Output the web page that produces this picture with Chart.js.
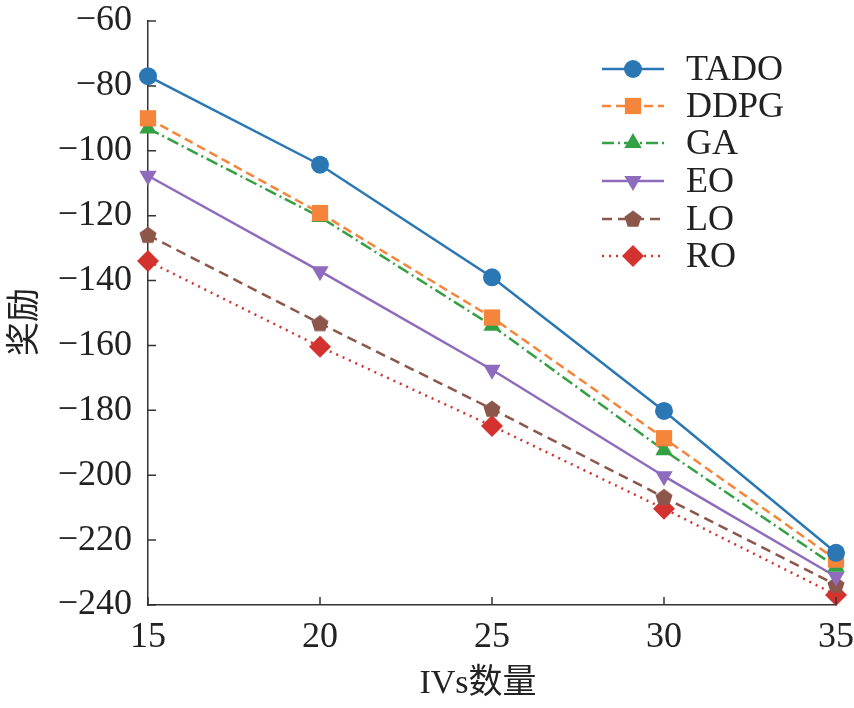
<!DOCTYPE html>
<html>
<head>
<meta charset="utf-8">
<script src="https://cdn.jsdelivr.net/npm/chart.js@4.4.1/dist/chart.umd.min.js"></script>
<style>
html,body{margin:0;padding:0;background:#fff;}
#wrap{width:854px;height:708px;position:relative;}
</style>
</head>
<body>
<div id="wrap"><canvas id="c" width="854" height="708"></canvas></div>
<script>
const xValues = [15, 20, 25, 30, 35];
const xTicks = [15, 20, 25, 30, 35];
const yTicks = [-60, -80, -100, -120, -140, -160, -180, -200, -220, -240];
const seriesNames = ['TADO', 'DDPG', 'GA', 'EO', 'LO', 'RO'];
const tado = [-77.0, -104.3, -139.0, -180.2, -223.9];
const ddpg = [-90.0, -119.2, -151.4, -188.6, -226.0];
const ga   = [-93.1, -120.4, -153.9, -192.3, -228.2];
const eo   = [-107.7, -137.1, -167.5, -200.3, -231.3];
const lo   = [-126.0, -153.2, -179.6, -206.8, -233.8];
const ro   = [-134.0, -160.4, -184.8, -210.3, -236.9];
const xTitle = 'IVs数量';
const yTitle = '奖励';

function pentagon(color, r) {
  const c = document.createElement('canvas');
  const s = Math.ceil(r * 2 + 2);
  c.width = s; c.height = s;
  const g = c.getContext('2d');
  g.fillStyle = color;
  g.beginPath();
  for (let i = 0; i < 5; i++) {
    const a = -Math.PI / 2 + i * 2 * Math.PI / 5;
    const px = s / 2 + r * Math.cos(a), py = s / 2 + r * Math.sin(a) + 0.5;
    if (i === 0) g.moveTo(px, py); else g.lineTo(px, py);
  }
  g.closePath(); g.fill();
  return c;
}

const colors = ['#2a77b4', '#f5853a', '#33a043', '#8e6bbd', '#8c564b', '#d3322f'];
const styles = [
  {pointStyle: 'circle', radius: 9, dash: [], rot: 0},
  {pointStyle: 'rect', radius: 11.5, dash: [9, 5], rot: 0},
  {pointStyle: 'triangle', radius: 10, dash: [12, 4, 2, 4], rot: 0},
  {pointStyle: 'triangle', radius: 10, dash: [], rot: 180},
  {pointStyle: pentagon('#8c564b', 9), radius: 9, dash: [10, 6], rot: 0},
  {pointStyle: 'rectRot', radius: 11, dash: [2, 5], rot: 0}
];
const seriesData = [tado, ddpg, ga, eo, lo, ro];

const datasets = seriesNames.map((name, i) => ({
  label: name,
  data: xValues.map((x, j) => ({x: x, y: seriesData[i][j]})),
  borderColor: colors[i],
  backgroundColor: colors[i],
  borderWidth: 2.5,
  borderDash: styles[i].dash,
  pointStyle: styles[i].pointStyle,
  pointRadius: styles[i].radius,
  pointHoverRadius: styles[i].radius,
  pointRotation: styles[i].rot,
  pointBorderWidth: 0,
  tension: 0,
  clip: false
}));

const serif = "'Liberation Serif', 'Times New Roman', serif";
const cjk = "'Liberation Serif', 'Noto Sans CJK SC', serif";

const decor = {
  id: 'decor',
  afterDraw(chart) {
    const ctx = chart.ctx;
    const xs = chart.scales.x, ys = chart.scales.y;
    const area = chart.chartArea;
    ctx.save();
    ctx.strokeStyle = '#333';
    ctx.lineWidth = 1.5;
    ctx.beginPath();
    yTicks.forEach(v => {
      const y = ys.getPixelForValue(v);
      ctx.moveTo(area.left, y); ctx.lineTo(area.left + 8, y);
    });
    xTicks.forEach(v => {
      const x = xs.getPixelForValue(v);
      ctx.moveTo(x, area.bottom); ctx.lineTo(x, area.bottom - 8);
    });
    ctx.stroke();
    ctx.fillStyle = '#222';
    ctx.font = '34px ' + cjk;
    ctx.textAlign = 'center';
    ctx.textBaseline = 'middle';
    ctx.fillText(xTitle, 478, 684);
    ctx.save();
    ctx.translate(26, 322);
    ctx.rotate(-Math.PI / 2);
    ctx.font = '34px ' + cjk;
    ctx.fillText(yTitle, 0, 0);
    ctx.restore();
    const rowY = [69, 106, 143, 181, 219, 256];
    chart.data.datasets.forEach((ds, i) => {
      const y = rowY[i];
      ctx.save();
      ctx.strokeStyle = ds.borderColor;
      ctx.lineWidth = 2.5;
      ctx.setLineDash(ds.borderDash || []);
      ctx.beginPath();
      ctx.moveTo(602, y); ctx.lineTo(664, y);
      ctx.stroke();
      ctx.setLineDash([]);
      ctx.fillStyle = ds.backgroundColor;
      Chart.helpers.drawPoint(ctx, {
        pointStyle: ds.pointStyle,
        rotation: ds.pointRotation,
        radius: ds.pointRadius,
        borderWidth: 0
      }, 633, y);
      ctx.restore();
      ctx.fillStyle = '#222';
      ctx.font = '36px ' + serif;
      ctx.textAlign = 'left';
      ctx.textBaseline = 'middle';
      ctx.fillText(ds.label, 686, y + 2);
    });
    ctx.restore();
  }
};

new Chart(document.getElementById('c'), {
  type: 'line',
  data: {datasets: datasets},
  options: {
    responsive: false,
    animation: false,
    devicePixelRatio: 1,
    layout: {padding: {top: 21, right: 18, left: 0, bottom: 0}},
    plugins: {legend: {display: false}, tooltip: {enabled: false}},
    scales: {
      x: {
        type: 'linear',
        min: 15, max: 35,
        afterBuildTicks: s => { s.ticks = xTicks.map(v => ({value: v})); },
        afterFit: s => { s.height = 103; s.paddingLeft = 0; s.paddingRight = 0; },
        grid: {display: false},
        border: {display: true, color: '#333', width: 1.5},
        ticks: {
          color: '#222',
          font: {family: serif, size: 36},
          padding: 3,
          maxRotation: 0,
          callback: v => String(v)
        }
      },
      y: {
        type: 'linear',
        min: -240, max: -60,
        afterBuildTicks: s => { s.ticks = yTicks.map(v => ({value: v})); },
        afterFit: s => { s.width = 148; s.paddingTop = 0; s.paddingBottom = 0; },
        grid: {display: false},
        border: {display: true, color: '#333', width: 1.5},
        ticks: {
          color: '#222',
          font: {family: serif, size: 36},
          padding: 8,
          callback: v => String(v).replace('-', '\u2212')
        }
      }
    }
  },
  plugins: [decor]
});
</script>
</body>
</html>
